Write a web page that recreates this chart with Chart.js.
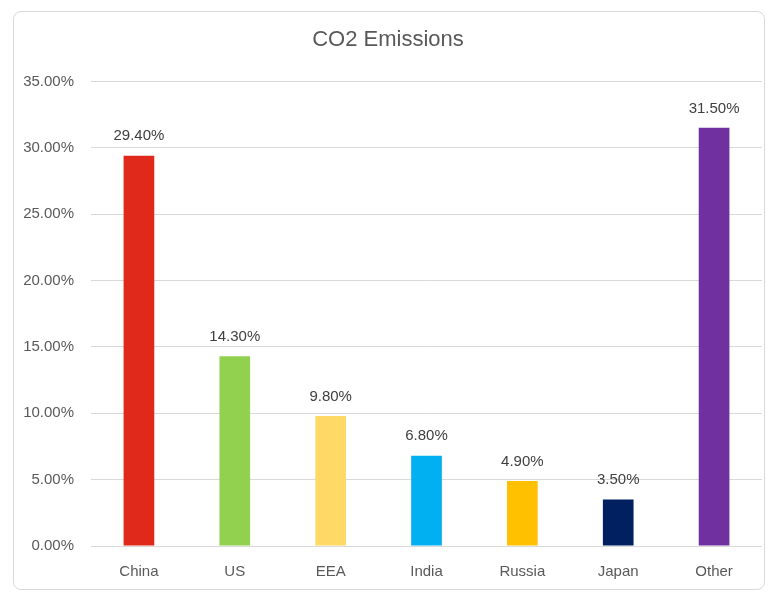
<!DOCTYPE html>
<html><head><meta charset="utf-8">
<script src="https://cdn.jsdelivr.net/npm/chart.js@4"></script>
<style>
html,body{margin:0;padding:0;background:#fff;}
#box{position:absolute;left:13px;top:11px;width:750px;height:577px;border:1px solid #d9d9d9;border-radius:8px;background:#fff;}
canvas{display:block;}
</style></head><body>
<div id="box"><canvas id="c" width="750" height="577"></canvas></div>
<script>
const categories = ["China","US","EEA","India","Russia","Japan","Other"];
const values = [29.4, 14.3, 9.8, 6.8, 4.9, 3.5, 31.5];
const barColors = ["#E0291A","#92D050","#FFD966","#00B0F0","#FFC000","#002060","#7030A0"];
const yTicks = [0,5,10,15,20,25,30,35];

const FONT = "'Liberation Sans', Arial, sans-serif";
const labelPlugin = {
  id: 'valueLabels',
  afterDatasetsDraw(chart) {
    const ctx = chart.ctx;
    const meta = chart.getDatasetMeta(0);
    ctx.save();
    ctx.font = "15px " + FONT;
    ctx.fillStyle = "#404040";
    ctx.textAlign = "center";
    ctx.textBaseline = "bottom";
    meta.data.forEach((bar, i) => {
      ctx.fillText(values[i].toFixed(2) + "%", bar.x, bar.y - 12);
    });
    ctx.restore();
  }
};

new Chart(document.getElementById('c'), {
  type: 'bar',
  data: {
    labels: categories,
    datasets: [{
      data: values,
      backgroundColor: barColors,
      borderWidth: 0,
      barPercentage: 0.32,
      categoryPercentage: 1.0
    }]
  },
  options: {
    responsive: false,
    animation: false,
    devicePixelRatio: 1,
    layout: { padding: { top: 15, right: 2, bottom: 0, left: 0 } },
    plugins: {
      legend: { display: false },
      tooltip: { enabled: false },
      title: {
        display: true,
        text: "CO2 Emissions",
        color: "#595959",
        font: { family: FONT, size: 22, weight: 'normal' },
        padding: { top: 0, bottom: 28 }
      }
    },
    scales: {
      x: {
        grid: { display: false },
        border: { display: false },
        afterFit: s => { s.height = 43; },
        ticks: { color: "#595959", font: { family: FONT, size: 15 }, padding: 9 }
      },
      y: {
        min: 0, max: 35,
        afterBuildTicks: s => { s.ticks = yTicks.map(v => ({ value: v })); },
        afterFit: s => { s.width = 77; },
        grid: { color: "#d9d9d9", lineWidth: 1, drawTicks: false },
        border: { display: false },
        ticks: {
          color: "#595959", font: { family: FONT, size: 15 }, padding: 17,
          callback: v => v.toFixed(2) + "%"
        }
      }
    }
  },
  plugins: [labelPlugin]
});
</script>
</body></html>
